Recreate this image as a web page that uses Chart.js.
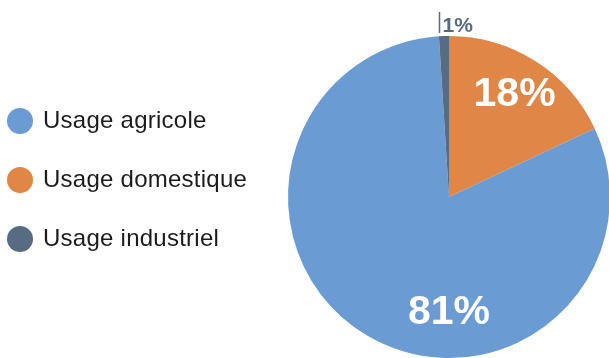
<!DOCTYPE html>
<html lang="fr">
<head>
<meta charset="utf-8">
<title>Répartition des usages de l'eau</title>
<script src="https://cdn.jsdelivr.net/npm/chart.js@4/dist/chart.umd.min.js"></script>
<style>
  html, body { margin: 0; padding: 0; background: #fff; }
  body { width: 609px; height: 358px; overflow: hidden; position: relative;
         font-family: "Liberation Sans", Arial, Helvetica, sans-serif; }
  #wrap { position: absolute; left: 0; top: 0; width: 700px; height: 420px; }
  #legend { position: absolute; left: 7px; top: 92px; margin: 0; padding: 0; list-style: none; }
  #legend li { display: flex; align-items: center; height: 58.7px; }
  #legend .dot { width: 26px; height: 26px; border-radius: 50%; margin-right: 10px; flex: none; }
  #legend .txt { font-size: 24px; letter-spacing: 0.25px; color: #1c1c1c; white-space: nowrap;
                 position: relative; top: -1px; }
</style>
</head>
<body>
<div id="wrap"><canvas id="pie" width="700" height="420"></canvas></div>
<ul id="legend"></ul>
<script>
// Water use by sector (%)
const categories = ['Usage agricole', 'Usage domestique', 'Usage industriel'];
const shares = [81, 18, 1];
const colors = ['#6a9bd2', '#e08747', '#576b83'];
// Slices are laid out clockwise from 12 o'clock in this order (indices into categories)
const sliceOrder = [1, 0, 2];

const pieLabels = sliceOrder.map(i => categories[i]);
const pieValues = sliceOrder.map(i => shares[i]);
const pieColors = sliceOrder.map(i => colors[i]);

// Legend, in category order
const legend = document.getElementById('legend');
categories.forEach((name, i) => {
  const li = document.createElement('li');
  const dot = document.createElement('span');
  dot.className = 'dot';
  dot.style.background = colors[i];
  const txt = document.createElement('span');
  txt.className = 'txt';
  txt.textContent = name;
  li.appendChild(dot);
  li.appendChild(txt);
  legend.appendChild(li);
});

// Percentage labels: large white ones inside, a small one with a leader line for thin slices
const percentLabels = {
  id: 'percentLabels',
  afterDatasetsDraw(chart, args, opts) {
    const ctx = chart.ctx;
    const meta = chart.getDatasetMeta(0);
    const values = chart.data.datasets[0].data;
    meta.data.forEach((arc, i) => {
      const cat = sliceOrder[i];
      const text = values[i] + '%';
      const r = arc.outerRadius;
      ctx.save();
      if (values[i] < 5) {
        // thin slice: vertical tick at the slice's leading edge, label to its right
        const a = arc.startAngle;
        const x = Math.round(arc.x + r * Math.cos(a)) + 0.5;
        const yTop = arc.y - r - 24;
        const yBot = arc.y - r - 3;
        ctx.strokeStyle = opts.outsideColor;
        ctx.lineWidth = 1.5;
        ctx.beginPath();
        ctx.moveTo(x, yTop);
        ctx.lineTo(x, yBot);
        ctx.stroke();
        ctx.fillStyle = opts.outsideColor;
        ctx.font = 'bold 21px "Liberation Sans", Arial, sans-serif';
        ctx.textAlign = 'left';
        ctx.textBaseline = 'alphabetic';
        ctx.fillText(text, x + 3, yBot - 1);
      } else {
        const a = opts.angle[cat] !== undefined
          ? opts.angle[cat] * Math.PI / 180 - Math.PI / 2
          : (arc.startAngle + arc.endAngle) / 2;
        const d = r * opts.radiusFrac[cat];
        ctx.fillStyle = '#ffffff';
        ctx.font = 'bold 41px "Liberation Sans", Arial, sans-serif';
        ctx.textAlign = 'center';
        ctx.textBaseline = 'middle';
        ctx.fillText(text, arc.x + d * Math.cos(a), arc.y + d * Math.sin(a) + 1);
      }
      ctx.restore();
    });
  }
};

new Chart(document.getElementById('pie'), {
  type: 'pie',
  data: {
    labels: pieLabels,
    datasets: [{
      data: pieValues,
      backgroundColor: pieColors,
      borderWidth: 0
    }]
  },
  options: {
    responsive: false,
    animation: false,
    rotation: 0,
    layout: { padding: { left: 288, top: 36, right: 90, bottom: 62 } },
    plugins: {
      legend: { display: false },
      tooltip: { enabled: false },
      percentLabels: {
        outsideColor: '#5a6b80',
        // per-category placement (degrees clockwise from 12 o'clock, fraction of radius)
        angle: { 0: 180 },
        radiusFrac: { 0: 0.71, 1: 0.76 }
      }
    }
  },
  plugins: [percentLabels]
});
</script>
</body>
</html>
